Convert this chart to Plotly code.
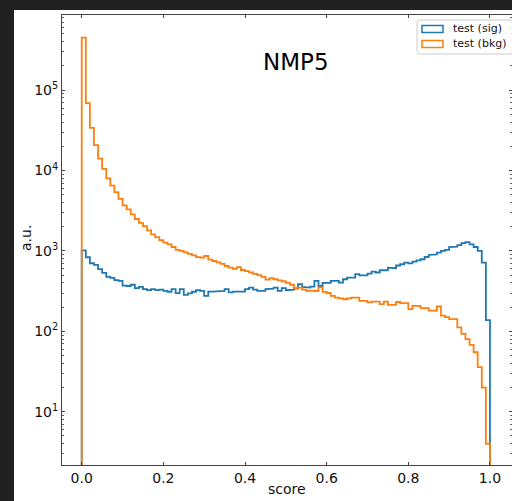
import plotly.graph_objects as go

# ---------------- data ----------------
bin_edges = [i / 100 for i in range(101)]

sig_counts = [
    1020, 835, 704, 670, 593, 533, 476, 463, 433, 425,
    370, 367, 380, 345, 358, 335, 326, 335, 326, 330,
    319, 311, 335, 299, 335, 284, 297, 311, 326, 319,
    277, 313, 313, 319, 319, 335, 305, 313, 313, 313,
    335, 351, 330, 319, 319, 335, 340, 351, 319, 345,
    325, 330, 340, 387, 358, 351, 360, 425, 367, 401,
    401, 425, 425, 405, 445, 467, 467, 514, 497, 497,
    524, 553, 540, 576, 576, 621, 610, 660, 684, 716,
    700, 736, 766, 789, 842, 892, 908, 953, 1000, 1030,
    1120, 1130, 1180, 1250, 1290, 1210, 1120, 1000, 716, 138,
]

bkg_counts = [
    450000, 69000, 34000, 20700, 14100, 10500, 8000, 6500, 5400, 4450,
    3700, 3300, 2850, 2500, 2240, 2040, 1800, 1610, 1490, 1360,
    1270, 1210, 1120, 1030, 1000, 960, 920, 880, 840, 826,
    866, 780, 750, 720, 690, 650, 620, 600, 630, 580,
    560, 540, 520, 500, 475, 440, 460, 445, 430, 420,
    400, 380, 345, 350, 330, 320, 322, 318, 352, 310,
    300, 277, 263, 258, 251, 258, 263, 263, 240, 240,
    229, 235, 235, 218, 235, 214, 214, 232, 225, 225,
    189, 208, 208, 195, 195, 181, 181, 204, 157, 150,
    142, 142, 112, 93, 80, 68, 55, 36, 20, 4,
]

x_tick_vals = [0.0, 0.2, 0.4, 0.6, 0.8, 1.0]
x_tick_text = ["0.0", "0.2", "0.4", "0.6", "0.8", "1.0"]
y_tick_vals = [1e1, 1e2, 1e3, 1e4, 1e5]
y_tick_text = ["10<sup>1</sup>", "10<sup>2</sup>", "10<sup>3</sup>", "10<sup>4</sup>", "10<sup>5</sup>"]
series_names = ["test (sig)", "test (bkg)"]
title_text = "NMP5"
x_label = "score"
y_label = "a.u."

# ---------------- styles / layout ----------------
W, H = 512, 501
L, R, T, B = 62, 0, 15, 36
PW, PH = W - L - R, H - T - B
FONT = "DejaVu Sans"
BLUE, ORANGE = "#1f77b4", "#ff7f0e"
DARK = "#202020"


def px(x):
    return (x - L) / PW


def py(y):
    return (H - B - y) / PH


def step_path(edges, counts, floor=1e-3):
    xs, ys = [edges[0]], [floor]
    for i, c in enumerate(counts):
        xs += [edges[i], edges[i + 1]]
        ys += [c, c]
    xs.append(edges[-1])
    ys.append(floor)
    return xs, ys


fig = go.Figure()
for counts, name, col in [(sig_counts, series_names[0], BLUE),
                          (bkg_counts, series_names[1], ORANGE)]:
    xs, ys = step_path(bin_edges, counts)
    fig.add_trace(go.Scatter(x=xs, y=ys, mode="lines", name=name,
                             line=dict(color=col, width=1.8),
                             showlegend=False, hoverinfo="skip"))

minor_vals = [m * 10 ** k for k in range(0, 6) for m in range(2, 10)]

axis_common = dict(showline=True, linecolor="#444444", linewidth=1,
                   mirror="allticks", ticks="inside", ticklen=3,
                   tickcolor="#444444", showgrid=False, zeroline=False,
                   tickfont=dict(family=FONT, size=14, color="#111111"))

fig.update_xaxes(range=[-0.0483, 1.054], tickvals=x_tick_vals,
                 ticktext=x_tick_text, **axis_common)
fig.update_yaxes(type="log", range=[0.338, 5.935], tickvals=y_tick_vals,
                 ticktext=y_tick_text,
                 minor=dict(tickvals=minor_vals, ticks="inside", ticklen=2,
                            tickcolor="#666666"),
                 **axis_common)

shapes = [
    # dark surround of the screenshot
    dict(type="rect", xref="paper", yref="paper", x0=px(0), x1=px(W),
         y0=py(10), y1=py(0), fillcolor=DARK, line_width=0, layer="above"),
    dict(type="rect", xref="paper", yref="paper", x0=px(0), x1=px(14),
         y0=py(H), y1=py(0), fillcolor=DARK, line_width=0, layer="above"),
]

# legend box (rounded)
bx0, bx1, by0, by1, r = 417, 516, 20, 54, 3
path = (f"M{px(bx0 + r)},{py(by0)} L{px(bx1 - r)},{py(by0)} "
        f"Q{px(bx1)},{py(by0)} {px(bx1)},{py(by0 + r)} "
        f"L{px(bx1)},{py(by1 - r)} Q{px(bx1)},{py(by1)} {px(bx1 - r)},{py(by1)} "
        f"L{px(bx0 + r)},{py(by1)} Q{px(bx0)},{py(by1)} {px(bx0)},{py(by1 - r)} "
        f"L{px(bx0)},{py(by0 + r)} Q{px(bx0)},{py(by0)} {px(bx0 + r)},{py(by0)} Z")
shapes.append(dict(type="path", xref="paper", yref="paper", path=path,
                   fillcolor="rgba(255,255,255,0.85)",
                   line=dict(color="#cccccc", width=1), layer="above"))
for i, (name, col) in enumerate(zip(series_names, [BLUE, ORANGE])):
    yc = 29 + 15 * i
    shapes.append(dict(type="rect", xref="paper", yref="paper",
                       x0=px(422), x1=px(443), y0=py(yc + 3.5), y1=py(yc - 3.5),
                       line=dict(color=col, width=1.5), fillcolor="rgba(0,0,0,0)",
                       layer="above"))

annotations = []
for i, name in enumerate(series_names):
    yc = 29 + 15 * i
    annotations.append(dict(x=px(451), y=py(yc), xref="paper", yref="paper",
                            text=name, showarrow=False, xanchor="left",
                            yanchor="middle",
                            font=dict(family=FONT, size=11, color="#111111")))
annotations.append(dict(x=px(296), y=py(61.5), xref="paper", yref="paper",
                        text=title_text, showarrow=False, xanchor="center",
                        yanchor="middle",
                        font=dict(family=FONT, size=23, color="#000000")))
annotations.append(dict(x=px(287), y=py(489), xref="paper", yref="paper",
                        text=x_label, showarrow=False, xanchor="center",
                        yanchor="middle",
                        font=dict(family=FONT, size=14, color="#111111")))
annotations.append(dict(x=px(26), y=py(238), xref="paper", yref="paper",
                        text=y_label, showarrow=False, xanchor="center",
                        yanchor="middle", textangle=-90,
                        font=dict(family=FONT, size=14, color="#111111")))

fig.update_layout(width=W, height=H,
                  margin=dict(l=L, r=R, t=T, b=B, pad=0),
                  paper_bgcolor="white", plot_bgcolor="white",
                  showlegend=False, shapes=shapes, annotations=annotations)

fig.write_html("out.html")
